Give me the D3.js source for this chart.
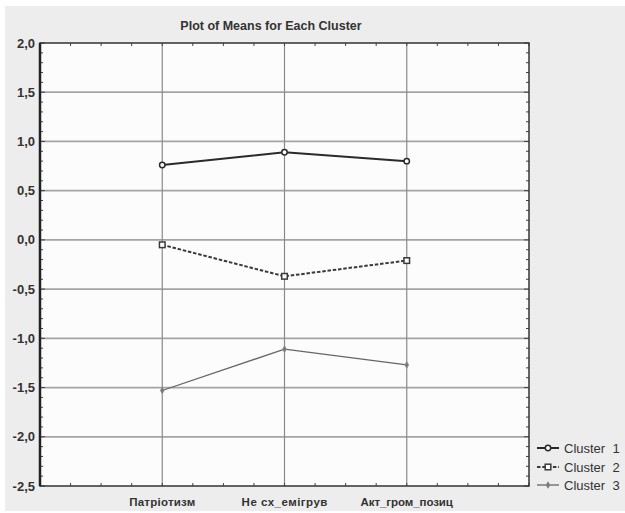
<!DOCTYPE html>
<html>
<head>
<meta charset="utf-8">
<script src="https://cdn.jsdelivr.net/npm/d3@7/dist/d3.min.js"></script>
<style>
    html, body { margin: 0; padding: 0; background: #fff; }
    svg { display: block; font-family: "Liberation Sans", Arial, sans-serif; }
</style>
</head>
<body>
<div id="chart"></div>
<script>
(function(){
    "use strict";
    //====================================
    //chart data
    var categories = ["Патріотизм", "Не сх_емігрув", "Акт_гром_позиц"];
    var cluster1 = [0.76, 0.89, 0.80];
    var cluster2 = [-0.05, -0.37, -0.21];
    var cluster3 = [-1.53, -1.11, -1.27];
    var seriesNames = ["Cluster  1", "Cluster  2", "Cluster  3"];
    var yTicks = [2.0, 1.5, 1.0, 0.5, 0.0, -0.5, -1.0, -1.5, -2.0, -2.5];

    var width = 625, height = 513;
    var plot = {left: 40, top: 43, right: 529, bottom: 486};

    var svg = d3.select("#chart").append("svg")
        .attr("width", width)
        .attr("height", height);

    //gray panel
    svg.append("rect")
        .attr("x", 5).attr("y", 6)
        .attr("width", width - 5).attr("height", height - 8)
        .attr("fill", "#ededed");

    svg.append("rect")
        .attr("x", plot.left).attr("y", plot.top)
        .attr("width", plot.right - plot.left)
        .attr("height", plot.bottom - plot.top)
        .attr("fill", "#fcfcfc");

    //scales
    var x = d3.scaleLinear().domain([0, 4]).range([plot.left, plot.right]);
    var y = d3.scaleLinear().domain([-2.5, 2.0]).range([plot.bottom, plot.top]);

    //grid lines
    svg.append("g").selectAll("line")
        .data(yTicks.slice(1, -1))
        .enter().append("line")
        .attr("x1", plot.left).attr("x2", plot.right)
        .attr("y1", function(d){ return y(d); })
        .attr("y2", function(d){ return y(d); })
        .attr("stroke", "#a4a4a4")
        .attr("stroke-width", 1.8);

    svg.append("g").selectAll("line")
        .data(categories)
        .enter().append("line")
        .attr("x1", function(d, i){ return x(i + 1); })
        .attr("x2", function(d, i){ return x(i + 1); })
        .attr("y1", plot.top).attr("y2", plot.bottom)
        .attr("stroke", "#8a8a8a")
        .attr("stroke-width", 1.2);

    //minor ticks
    var yMinor = d3.range(-25, 21).map(function(d){ return d / 10; });
    var xMinor = d3.range(0, 17).map(function(d){ return d / 4; });
    var ticks = svg.append("g").attr("stroke", "#444").attr("stroke-width", 1);
    yMinor.forEach(function(v){
        var len = (Math.round(v * 10) % 5 === 0) ? 5 : 3;
        ticks.append("line").attr("x1", plot.left).attr("x2", plot.left + len)
            .attr("y1", y(v)).attr("y2", y(v));
        ticks.append("line").attr("x1", plot.right).attr("x2", plot.right - len)
            .attr("y1", y(v)).attr("y2", y(v));
    });
    xMinor.forEach(function(v){
        ticks.append("line").attr("x1", x(v)).attr("x2", x(v))
            .attr("y1", plot.bottom).attr("y2", plot.bottom - 3);
        ticks.append("line").attr("x1", x(v)).attr("x2", x(v))
            .attr("y1", plot.top).attr("y2", plot.top + 3);
    });

    //frame
    svg.append("rect")
        .attr("x", plot.left).attr("y", plot.top)
        .attr("width", plot.right - plot.left)
        .attr("height", plot.bottom - plot.top)
        .attr("fill", "none")
        .attr("stroke", "#333")
        .attr("stroke-width", 1.5);
    svg.append("line")
        .attr("x1", plot.left).attr("x2", plot.left)
        .attr("y1", plot.top).attr("y2", plot.bottom)
        .attr("stroke", "#222").attr("stroke-width", 2.5);

    //y labels
    svg.append("g").selectAll("text")
        .data(yTicks)
        .enter().append("text")
        .attr("x", 35)
        .attr("y", function(d){ return y(d) + 4.5; })
        .attr("text-anchor", "end")
        .attr("font-size", 13)
        .attr("font-weight", "bold")
        .attr("fill", "#333")
        .text(function(d){ return d3.format(".1f")(d).replace(".", ",").replace("−", "-"); });

    //x labels
    svg.append("g").selectAll("text")
        .data(categories)
        .enter().append("text")
        .attr("x", function(d, i){ return x(i + 1); })
        .attr("y", 506)
        .attr("text-anchor", "middle")
        .attr("font-size", 11.5)
        .attr("font-weight", "bold")
        .attr("fill", "#333")
        .attr("textLength", function(d){ return d.length * 6.6; })
        .text(function(d){ return d; });

    //title
    svg.append("text")
        .attr("x", 271).attr("y", 30)
        .attr("text-anchor", "middle")
        .attr("font-size", 12.5)
        .attr("font-weight", "bold")
        .attr("fill", "#333")
        .text("Plot of Means for Each Cluster");

    //series
    var series = [
        {values: cluster1, stroke: "#2a2a2a", width: 2, dash: null, marker: "circle"},
        {values: cluster2, stroke: "#3a3a3a", width: 2, dash: "3.5,1.8", marker: "square"},
        {values: cluster3, stroke: "#666", width: 1.3, dash: null, marker: "diamond"}
    ];

    var line = d3.line()
        .x(function(d, i){ return x(i + 1); })
        .y(function(d){ return y(d); });

    function drawMarker(g, type, cx, cy, color){
        if(type === "circle"){
            g.append("circle").attr("cx", cx).attr("cy", cy).attr("r", 2.7)
                .attr("fill", "#fff").attr("stroke", color).attr("stroke-width", 1.5);
        } else if(type === "square"){
            g.append("rect").attr("x", cx - 2.8).attr("y", cy - 2.8)
                .attr("width", 5.6).attr("height", 5.6)
                .attr("fill", "#fff").attr("stroke", color).attr("stroke-width", 1.5);
        } else {
            g.append("path")
                .attr("d", d3.symbol().type(d3.symbolDiamond).size(12)())
                .attr("transform", "translate(" + cx + "," + cy + ")")
                .attr("fill", "#777").attr("stroke", "#888").attr("stroke-width", 0.8);
        }
    }

    series.forEach(function(s){
        var g = svg.append("g");
        g.append("path")
            .attr("d", line(s.values))
            .attr("fill", "none")
            .attr("stroke", s.stroke)
            .attr("stroke-width", s.width)
            .attr("stroke-dasharray", s.dash);
        s.values.forEach(function(v, i){
            drawMarker(g, s.marker, x(i + 1), y(v), s.stroke);
        });
    });

    //legend
    var legendY = [448, 467, 485];
    series.forEach(function(s, i){
        var g = svg.append("g");
        g.append("line")
            .attr("x1", 537).attr("x2", 559)
            .attr("y1", legendY[i]).attr("y2", legendY[i])
            .attr("stroke", s.stroke)
            .attr("stroke-width", s.width)
            .attr("stroke-dasharray", s.dash);
        drawMarker(g, s.marker, 548, legendY[i], s.stroke);
        g.append("text")
            .attr("x", 564).attr("y", legendY[i] + 4.5)
            .attr("font-size", 13)
            .attr("fill", "#333")
            .attr("xml:space", "preserve")
            .style("white-space", "pre")
            .text(seriesNames[i]);
    });
})();
</script>
</body>
</html>
